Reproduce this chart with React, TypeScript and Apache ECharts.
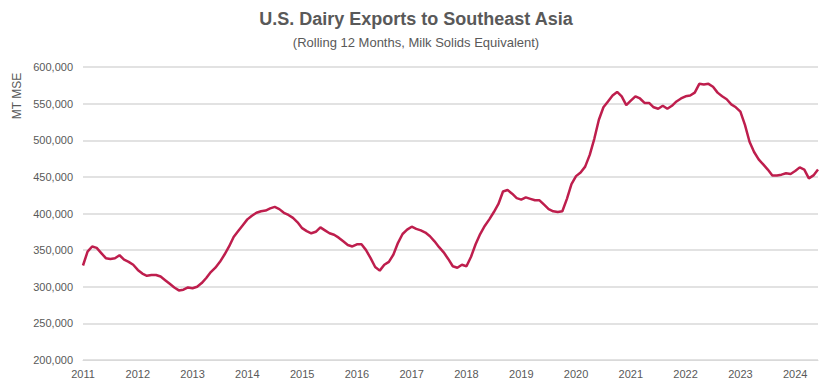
import React, { useEffect, useRef } from "react";
import * as echarts from "echarts";

const TITLE = "U.S. Dairy Exports to Southeast Asia";
const SUBTITLE = "(Rolling 12 Months, Milk Solids Equivalent)";
const Y_NAME = "MT MSE";

const startYear = 2011;
const yearLabels = ["2011", "2012", "2013", "2014", "2015", "2016", "2017", "2018", "2019", "2020", "2021", "2022", "2023", "2024"];

// Monthly values (thousand MT MSE), Jan 2011 .. Jun 2024
const exportsK = [
  // 2011
  329, 348, 355, 353, 346, 339, 338, 339, 343, 337, 334, 330,
  // 2012
  323, 318, 315, 316, 316, 314, 309, 304, 299, 295, 296, 299,
  // 2013
  298, 300, 305, 312, 320, 326, 334, 344, 355, 368, 376, 384,
  // 2014
  392, 397, 401, 403, 404, 407, 409, 406, 401, 398, 394, 388,
  // 2015
  380, 376, 373, 375, 381, 377, 373, 371, 367, 362, 357, 355,
  // 2016
  358, 358, 350, 339, 327, 322, 330, 334, 344, 360, 372, 378,
  // 2017
  382, 379, 377, 374, 369, 362, 354, 347, 338, 328, 326, 330,
  // 2018
  328, 341, 358, 372, 383, 392, 402, 413, 430, 432, 427, 421,
  // 2019
  419, 422, 420, 418, 418, 412, 406, 403, 402, 403, 420, 440,
  // 2020
  451, 456, 464, 480, 502, 528, 545, 553, 561, 566, 560, 548,
  // 2021
  554, 560, 557, 551, 551, 545, 543, 547, 543, 547, 553, 557,
  // 2022
  560, 561, 565, 577, 576, 577, 573, 565, 560, 556, 549, 545,
  // 2023
  539, 521, 498, 484, 474, 467, 460, 452, 452, 453, 455, 454,
  // 2024
  458, 463, 460, 448, 452, 460,
];

const months: string[] = exportsK.map((_, i) => `${startYear + Math.floor(i / 12)}-${String((i % 12) + 1).padStart(2, "0")}`);
const values: number[] = exportsK.map((v) => v * 1000);

const FONT = "'Liberation Sans', Arial, sans-serif";
const TEXT = "#595959";

export default function App() {
  const ref = useRef<HTMLDivElement>(null);
  useEffect(() => {
    document.body.style.margin = "0";
    if (!ref.current) return;
    const chart = echarts.init(ref.current, undefined, { renderer: "svg" });
    chart.setOption({
      animation: false,
      backgroundColor: "#ffffff",
      title: {
        text: TITLE,
        subtext: SUBTITLE,
        left: "center",
        top: 5,
        itemGap: 8,
        textStyle: { fontFamily: FONT, fontSize: 18, fontWeight: "bold", color: TEXT },
        subtextStyle: { fontFamily: FONT, fontSize: 13, color: TEXT },
      },
      grid: { left: 83, right: 14, top: 67, bottom: 30, containLabel: false },
      xAxis: {
        type: "category",
        data: months,
        boundaryGap: false,
        axisLine: { show: true, lineStyle: { color: "#d9d9d9", width: 1 } },
        axisTick: { show: false },
        splitLine: { show: false },
        axisLabel: {
          interval: 11,
          margin: 8,
          fontFamily: FONT,
          fontSize: 11,
          color: TEXT,
          formatter: (v: string) => {
            const y = v.slice(0, 4);
            return yearLabels.includes(y) ? y : "";
          },
        },
      },
      yAxis: {
        type: "value",
        min: 200000,
        max: 600000,
        interval: 50000,
        axisLine: { show: false },
        axisTick: { show: false },
        splitLine: { show: true, lineStyle: { color: "#d9d9d9", width: 1.5 } },
        axisLabel: {
          margin: 10,
          fontFamily: FONT,
          fontSize: 11,
          color: TEXT,
          formatter: (v: number) => v.toLocaleString("en-US"),
        },
      },
      graphic: [
        {
          type: "text",
          x: 17,
          y: 96,
          rotation: Math.PI / 2,
          style: {
            text: Y_NAME,
            fontFamily: FONT,
            fontSize: 12,
            fill: TEXT,
            textAlign: "center",
            textVerticalAlign: "middle",
          },
        },
      ],
      series: [
        {
          type: "line",
          data: values,
          showSymbol: false,
          symbol: "none",
          smooth: false,
          lineStyle: { color: "#BE1E4D", width: 2.5 },
          itemStyle: { color: "#BE1E4D" },
        },
      ],
    });
    return () => chart.dispose();
  }, []);
  return <div ref={ref} style={{ width: 832, height: 390 }} />;
}
